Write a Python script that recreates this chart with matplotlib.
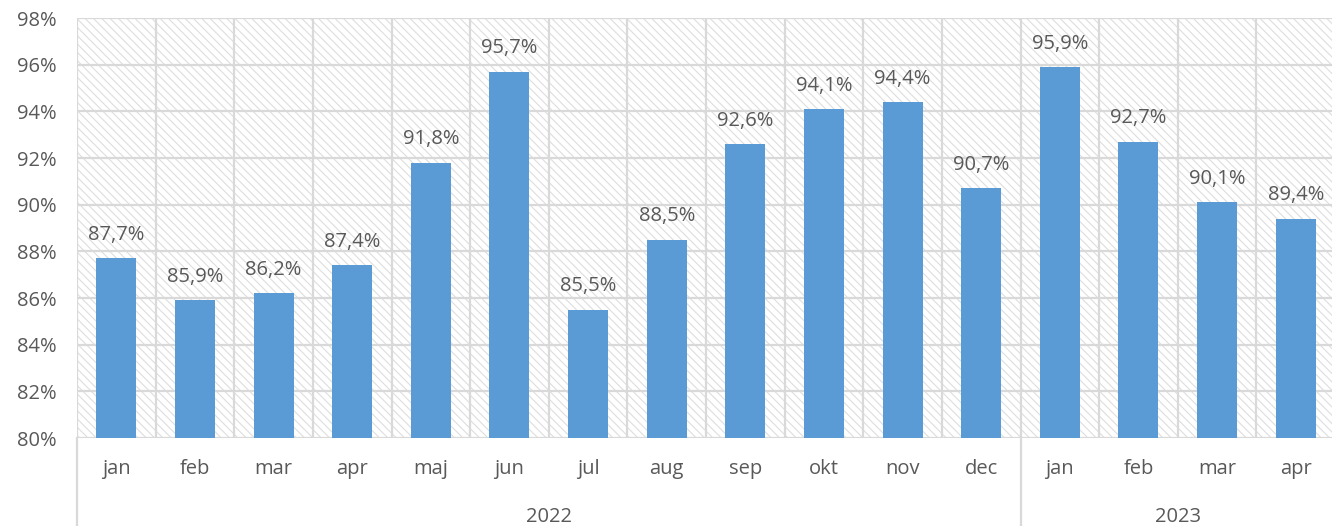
import matplotlib.pyplot as plt
from matplotlib.patches import Rectangle
from matplotlib.lines import Line2D
import matplotlib.transforms as mtransforms

months = ["jan", "feb", "mar", "apr", "maj", "jun", "jul", "aug", "sep", "okt", "nov", "dec",
          "jan", "feb", "mar", "apr"]
values = [87.7, 85.9, 86.2, 87.4, 91.8, 95.7, 85.5, 88.5, 92.6, 94.1, 94.4, 90.7,
          95.9, 92.7, 90.1, 89.4]
years = ["2022", "2023"]
year_counts = [12, 4]

plt.rcParams['font.family'] = ['Open Sans', 'DejaVu Sans']
plt.rcParams['hatch.linewidth'] = 0.8
text_color = '#595959'
grid_color = '#d9d9d9'
fs = 14.5

W, H = 1332, 526
fig = plt.figure(figsize=(W / 100, H / 100), dpi=100)
left, right, top, bottom = 77, 1335, 18, 438
ax = fig.add_axes([left / W, (H - bottom) / H, (right - left) / W, (bottom - top) / H])

# hatched background
bg = Rectangle((0, 0), 1, 1, transform=ax.transAxes, facecolor='white',
               edgecolor='#dedede', hatch='\\\\\\\\', lw=0, zorder=0)
ax.add_patch(bg)
ax.patch.set_visible(False)

x = list(range(len(values)))
ax.bar(x, values, width=0.51, color='#5b9bd5', zorder=3)

ax.set_xlim(-0.5, len(values) - 0.5)
ax.set_ylim(80, 98)
ax.set_yticks(range(80, 99, 2))
ax.set_yticklabels([f"{v}%" for v in range(80, 99, 2)])

# grid lines
for v in range(80, 99, 2):
    ax.axhline(v, color=grid_color, lw=1.6, zorder=1)
for i in range(len(values) + 1):
    ax.axvline(i - 0.5, color=grid_color, lw=1.6, zorder=1)

for s in ax.spines.values():
    s.set_visible(False)

ax.set_xticks(x)
ax.set_xticklabels(months)
ax.tick_params(axis='both', length=0, colors=text_color, labelsize=fs)
ax.tick_params(axis='x', pad=15)
ax.tick_params(axis='y', pad=15)

for xi, v in zip(x, values):
    ax.annotate(f"{v:.1f}%".replace('.', ','), (xi, v), xytext=(0, 9.5),
                textcoords='offset points', ha='center', va='bottom',
                color=text_color, fontsize=fs)

# year group labels and separators
trans = mtransforms.blended_transform_factory(ax.transData, ax.transAxes)
depth = -(H - bottom) / (bottom - top)
start = 0
for yr, n in zip(years, year_counts):
    ax.add_line(Line2D([start - 0.5, start - 0.5], [0, depth], transform=trans,
                       color=grid_color, lw=1.6, clip_on=False))
    ax.text(start + (n - 1) / 2, depth + 0.022, yr, transform=trans, ha='center',
            va='center', color=text_color, fontsize=fs)
    start += n

fig.savefig('out.png', dpi=100)
